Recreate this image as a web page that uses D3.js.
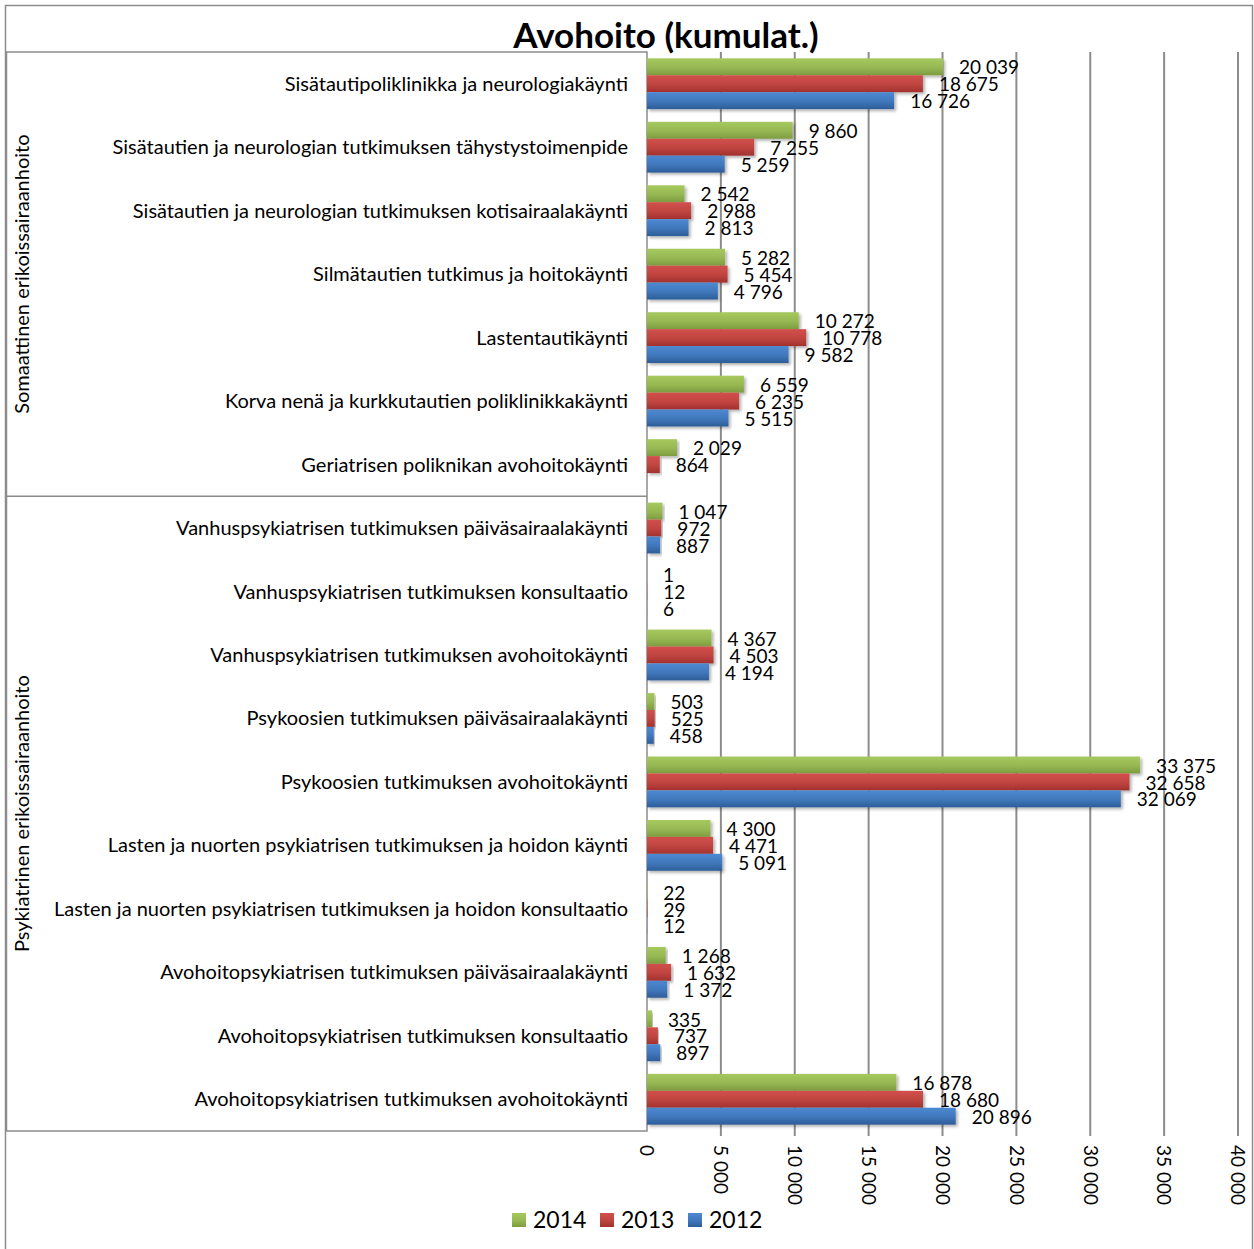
<!DOCTYPE html>
<html>
<head>
<meta charset="utf-8">
<script src="https://cdn.jsdelivr.net/npm/d3@7"></script>
<style>
    html, body { margin: 0; padding: 0; background: #fff; }
    svg text { font-family: Lato, "Open Sans", sans-serif; fill: #000; }
</style>
</head>
<body>
<svg id="chart" width="1254" height="1249"></svg>
<script>
const categories = [
    'Sisätautipoliklinikka ja neurologiakäynti',
    'Sisätautien ja neurologian tutkimuksen tähystystoimenpide',
    'Sisätautien ja neurologian tutkimuksen kotisairaalakäynti',
    'Silmätautien tutkimus ja hoitokäynti',
    'Lastentautikäynti',
    'Korva nenä ja kurkkutautien poliklinikkakäynti',
    'Geriatrisen poliknikan avohoitokäynti',
    'Vanhuspsykiatrisen tutkimuksen päiväsairaalakäynti',
    'Vanhuspsykiatrisen tutkimuksen konsultaatio',
    'Vanhuspsykiatrisen tutkimuksen avohoitokäynti',
    'Psykoosien tutkimuksen päiväsairaalakäynti',
    'Psykoosien tutkimuksen avohoitokäynti',
    'Lasten ja nuorten psykiatrisen tutkimuksen ja hoidon käynti',
    'Lasten ja nuorten psykiatrisen tutkimuksen ja hoidon konsultaatio',
    'Avohoitopsykiatrisen tutkimuksen päiväsairaalakäynti',
    'Avohoitopsykiatrisen tutkimuksen konsultaatio',
    'Avohoitopsykiatrisen tutkimuksen avohoitokäynti'
];
const groups = ['Somaattinen erikoissairaanhoito', 'Psykiatrinen erikoissairaanhoito'];
const groupSizes = [7, 10];

const seriesNames = ['2014', '2013', '2012'];
const values2014 = [20039, 9860, 2542, 5282, 10272, 6559, 2029, 1047, 1, 4367, 503, 33375, 4300, 22, 1268, 335, 16878];
const values2013 = [18675, 7255, 2988, 5454, 10778, 6235, 864, 972, 12, 4503, 525, 32658, 4471, 29, 1632, 737, 18680];
const values2012 = [16726, 5259, 2813, 4796, 9582, 5515, null, 887, 6, 4194, 458, 32069, 5091, 12, 1372, 897, 20896];
const xTicks = [0, 5000, 10000, 15000, 20000, 25000, 30000, 35000, 40000];
const colors = [['#a6c95e', '#7e9c3f'], ['#d2504c', '#a2312e'], ['#4d89d2', '#2d5d98']];

const svg = d3.select('#chart');
const plot = { left: 647, right: 1238, top: 52, bottom: 1131 };
const fmt = v => d3.format(',')(v).replace(/,/g, ' ');

// gradients + shadow
const defs = svg.append('defs');
colors.forEach((c, i) => {
    const g = defs.append('linearGradient').attr('id', 'grad' + i)
        .attr('x1', 0).attr('y1', 0).attr('x2', 0).attr('y2', 1);
    g.append('stop').attr('offset', '0%').attr('stop-color', c[0]);
    g.append('stop').attr('offset', '55%').attr('stop-color', d3.interpolate(c[0], c[1])(0.4));
    g.append('stop').attr('offset', '100%').attr('stop-color', c[1]);
});
defs.append('filter').attr('id', 'shadow')
    .attr('x', '-5%').attr('y', '-20%').attr('width', '115%').attr('height', '160%')
    .append('feDropShadow').attr('dx', 2).attr('dy', 2).attr('stdDeviation', 1.5)
    .attr('flood-color', '#000').attr('flood-opacity', 0.3);

// outer frame
svg.append('rect').attr('x', 5.5).attr('y', 5.5).attr('width', 1247).attr('height', 1250)
    .attr('fill', 'none').attr('stroke', '#8c8c8c').attr('stroke-width', 1.5);

// title
svg.append('text').attr('x', 666).attr('y', 48).attr('text-anchor', 'middle')
    .style('font-size', '35px').style('font-weight', 'bold').text('Avohoito (kumulat.)');

const x = d3.scaleLinear().domain([0, 40000]).range([plot.left, plot.right]);
const y = d3.scaleBand().domain(categories).range([plot.top, plot.bottom])
    .paddingInner(0.2).paddingOuter(0.1);
const ySub = d3.scaleBand().domain(seriesNames).range([0, y.bandwidth()]);

// gridlines
svg.append('g').selectAll('line').data(xTicks.slice(1)).join('line')
    .attr('x1', d => x(d)).attr('x2', d => x(d))
    .attr('y1', plot.top).attr('y2', plot.bottom + 5)
    .attr('stroke', '#8c8c8c').attr('stroke-width', 2);

// x tick labels (rotated)
svg.append('g').selectAll('text').data(xTicks).join('text')
    .attr('transform', d => `translate(${x(d)},1145) rotate(90)`)
    .attr('dy', '0.35em').style('font-size', '19px').text(fmt);

// category box
const step = (plot.bottom - plot.top) / categories.length;
svg.append('rect').attr('x', 6.5).attr('y', plot.top).attr('width', plot.left - 6.5)
    .attr('height', plot.bottom - plot.top)
    .attr('fill', '#fff').attr('stroke', '#8c8c8c').attr('stroke-width', 1.5);
let start = 0;
groups.forEach((g, gi) => {
    const y0 = plot.top + start * step;
    const y1 = y0 + groupSizes[gi] * step;
    if (gi > 0) {
        svg.append('line').attr('x1', 6.5).attr('x2', plot.left)
            .attr('y1', y0).attr('y2', y0)
            .attr('stroke', '#8c8c8c').attr('stroke-width', 1.5);
    }
    svg.append('text')
        .attr('transform', `translate(22,${(y0 + y1) / 2}) rotate(-90)`)
        .attr('text-anchor', 'middle').attr('dy', '0.35em')
        .style('font-size', '20px').text(g);
    start += groupSizes[gi];
});

svg.append('g').selectAll('text').data(categories).join('text')
    .attr('x', 628).attr('y', d => y(d) + y.bandwidth() / 2)
    .attr('dy', '0.35em').attr('text-anchor', 'end')
    .style('font-size', '20px').text(d => d);

// bars
const series = [values2014, values2013, values2012];
series.forEach((vals, si) => {
    const data = categories.map((c, i) => ({ c, v: vals[i] })).filter(d => d.v != null);
    const g = svg.append('g');
    g.selectAll('rect').data(data).join('rect')
        .attr('x', x(0)).attr('y', d => y(d.c) + ySub(seriesNames[si]))
        .attr('width', d => x(d.v) - x(0)).attr('height', ySub.bandwidth())
        .attr('fill', `url(#grad${si})`).attr('filter', 'url(#shadow)');
    g.selectAll('text').data(data).join('text')
        .attr('x', d => x(d.v) + 16)
        .attr('y', d => y(d.c) + ySub(seriesNames[si]) + ySub.bandwidth() / 2 + 1)
        .attr('dy', '0.35em').style('font-size', '19px').text(d => fmt(d.v));
});

// legend
const legend = svg.append('g').attr('transform', 'translate(512,1220)');
seriesNames.forEach((s, i) => {
    const lg = legend.append('g').attr('transform', `translate(${i * 88},0)`);
    lg.append('rect').attr('x', 0).attr('y', -7).attr('width', 14).attr('height', 14)
        .attr('fill', `url(#grad${i})`);
    lg.append('text').attr('x', 21).attr('dy', '0.36em').style('font-size', '23px').text(s);
});
</script>
</body>
</html>
